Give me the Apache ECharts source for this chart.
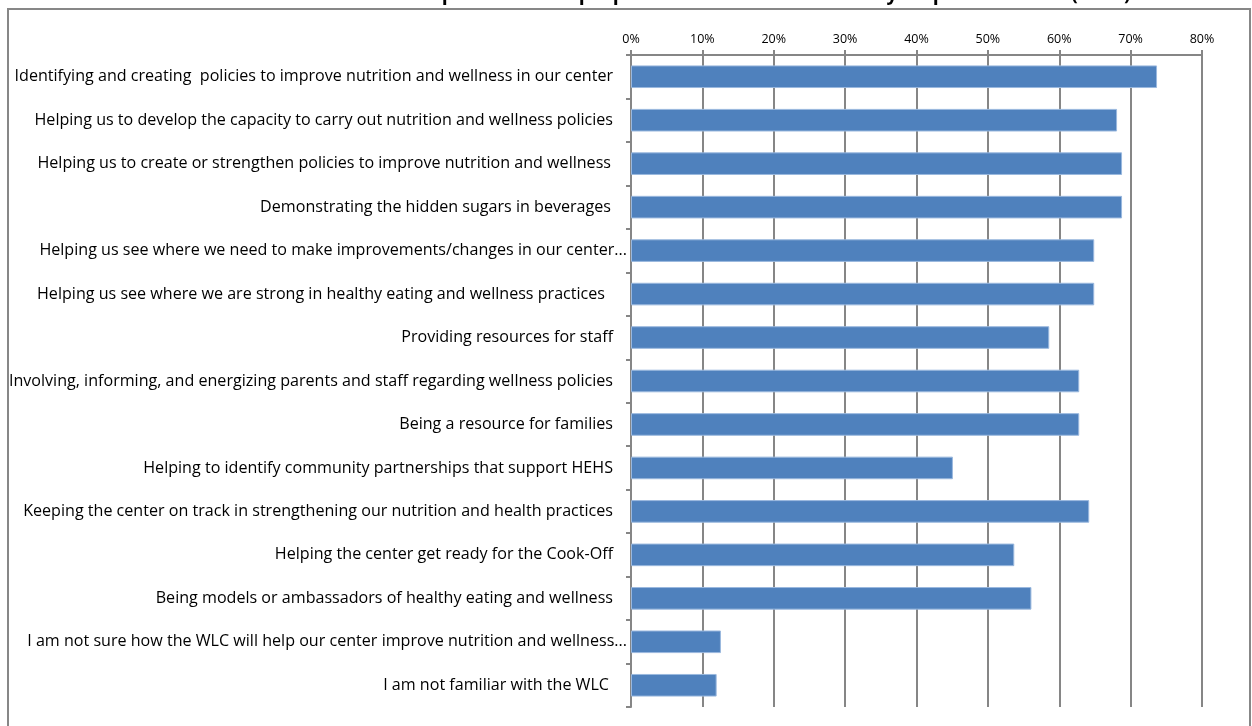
<!DOCTYPE html>
<html><head><meta charset="utf-8">
<script src="https://cdn.jsdelivr.net/npm/echarts@6/dist/echarts.min.js"></script>
<style>html,body{margin:0;padding:0;background:#fff}#c{width:1252px;height:726px}</style>
</head><body><div id="c"></div>
<script>
const titleText = "How center staff rate the capabilities and purposes of the WLC in how they help their center (n=38)";
const categories = [
  "Identifying and creating  policies to improve nutrition and wellness in our center",
  "Helping us to develop the capacity to carry out nutrition and wellness policies",
  "Helping us to create or strengthen policies to improve nutrition and wellness",
  "Demonstrating the hidden sugars in beverages",
  "Helping us see where we need to make improvements/changes in our center...",
  "Helping us see where we are strong in healthy eating and wellness practices",
  "Providing resources for staff",
  "Involving, informing, and energizing parents and staff regarding wellness policies",
  "Being a resource for families",
  "Helping to identify community partnerships that support HEHS",
  "Keeping the center on track in strengthening our nutrition and health practices",
  "Helping the center get ready for the Cook-Off",
  "Being models or ambassadors of healthy eating and wellness",
  "I am not sure how the WLC will help our center improve nutrition and wellness...",
  "I am not familiar with the WLC"
];
const extraPad = [0, 0, 2, 2, 0, 8, 0, 0, 0, 0, 0, 0, 0, 0, 4];
const values = [73.7, 68.1, 68.8, 68.8, 64.9, 64.9, 58.6, 62.8, 62.8, 45.1, 64.2, 53.7, 56.1, 12.6, 12.0];
const xTicks = [0, 10, 20, 30, 40, 50, 60, 70, 80];

const chart = echarts.init(document.getElementById('c'), null, {renderer: 'canvas'});
const FONT = 'Open Sans';
const LS = 16.1;
chart.setOption({
  animation: false,
  backgroundColor: '#fff',
  grid: {left: 631, right: 50, top: 55, bottom: 19, containLabel: false},
  xAxis: {
    type: 'value', position: 'top', min: xTicks[0], max: xTicks[xTicks.length - 1], interval: 10,
    axisLine: {show: true, lineStyle: {color: '#868686', width: 2}},
    axisTick: {show: true, length: 5, lineStyle: {color: '#868686', width: 2}},
    axisLabel: {formatter: v => v + '%', color: '#000', fontFamily: FONT, fontSize: 12.5, margin: 9},
    splitLine: {show: true, lineStyle: {color: '#868686', width: 2}}
  },
  yAxis: {
    type: 'category', inverse: true, data: categories,
    axisLine: {show: true, lineStyle: {color: '#868686', width: 2}},
    axisTick: {show: true, length: 5, lineStyle: {color: '#868686', width: 2}},
    axisLabel: {
      color: '#000', fontFamily: FONT, fontSize: LS, margin: 4,
      formatter: (v, i) => v.endsWith('...') ? '{t|' + v + '}' : '{n' + extraPad[i] + '|' + v + '}',
      rich: (function () {
        const r = {t: {fontFamily: FONT, fontSize: LS, color: '#000', padding: [0, 0, 0, 0]}};
        for (const p of new Set(extraPad)) r['n' + p] = {fontFamily: FONT, fontSize: LS, color: '#000', padding: [0, 14 + p, 0, 0]};
        return r;
      })()
    }
  },
  series: [{
    type: 'bar', data: values, barWidth: '52%',
    itemStyle: {color: '#4F81BD', borderColor: '#9ab8de', borderWidth: 1}
  }],
  graphic: [
    {type: 'rect', shape: {x: 8, y: 9, width: 1242, height: 730}, style: {fill: 'none', stroke: '#878787', lineWidth: 2}, z: -1},
    {type: 'text', x: 650, y: 4, style: {text: titleText, fontFamily: FONT, fontSize: 19.5, fontWeight: 'bold', fill: '#000', textAlign: 'center', textVerticalAlign: 'bottom'}}
  ]
});
</script></body></html>
